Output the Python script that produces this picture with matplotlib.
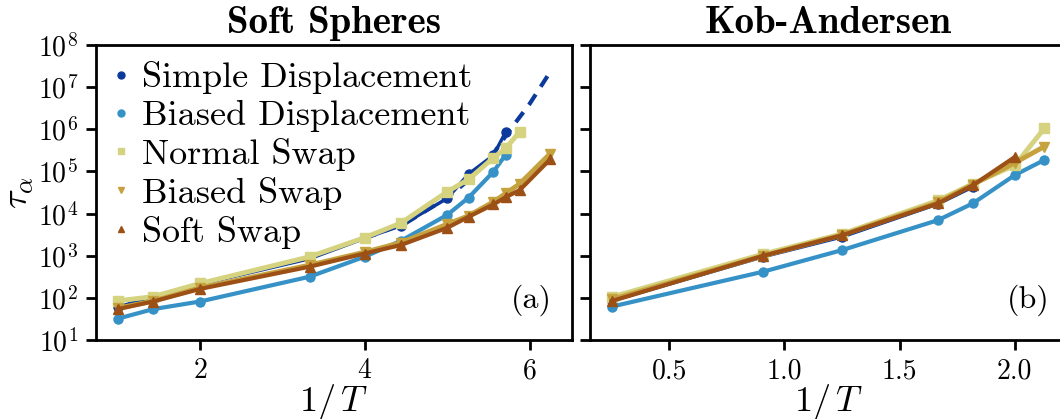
import numpy as np
import matplotlib
matplotlib.use("Agg")
import matplotlib.pyplot as plt
from matplotlib.lines import Line2D
from matplotlib.ticker import LogLocator, NullLocator

plt.rcParams["font.family"] = "serif"
plt.rcParams["font.serif"] = ["cmr10"]
plt.rcParams["mathtext.fontset"] = "cm"
plt.rcParams["axes.formatter.use_mathtext"] = True

# ---- Soft Spheres data (x = 1/T) ----
ss_x = [1.0, 1.43, 2.0, 3.33, 4.0, 4.44, 5.0, 5.26, 5.56, 5.71, 5.88, 6.25]

ss_simple = [60, 107, 210, 850, 2600, 5200, 23000, 87000, 240000, 860000]
ss_biased = [32, 54, 82, 318, 950, 2270, 9300, 24000, 98000, 250000]
ss_normal = [85, 107, 220, 945, 2700, 6000, 33000, 65000, 210000, 355000, 870000]
ss_bswap = [57, 84, 172, 600, 1220, 2050, 5600, 8900, 19000, 30000, 51000, 265000]
ss_soft = [54, 82, 163, 550, 1130, 1800, 4600, 8400, 16500, 24500, 36000, 195000]

# dashed extrapolation of simple displacement
fit_x = [4.0, 4.5, 5.0, 5.25, 5.5, 5.75, 6.0, 6.25]
fit_y = [2600, 6000, 24000, 60000, 180000, 900000, 4000000, 23000000]

# ---- Kob-Andersen data ----
ka_x = [0.25, 0.909, 1.25, 1.667, 1.818, 2.0, 2.128]

ka_simple = [85, 950, 2800, 17000, 43000]
ka_biased = [62, 420, 1360, 7000, 17500, 82000, 187000]
ka_normal = [105, 1100, 3300, 20500, 51000, 140000, 1050000]
ka_bswap = [92, 1000, 3100, 18500, 49000, 160000, 390000]
ka_soft = [84, 1000, 3050, 17500, 47000, 220000]

names = ["Simple Displacement", "Biased Displacement", "Normal Swap",
         "Biased Swap", "Soft Swap"]
colors = ["#0b3a9c", "#3591c6", "#d6d380", "#c6a23f", "#9c5015"]
markers = ["o", "o", "s", "v", "^"]
widths = [2.5, 3.0, 3.5, 3.5, 3.0]

fig = plt.figure(figsize=(10.6, 4.19), dpi=100)
ax1 = fig.add_axes([0.0906, 0.1885, 0.4488, 0.704])
ax2 = fig.add_axes([0.5566, 0.1885, 0.449, 0.704], sharey=ax1)

ss_series = [ss_simple, ss_biased, ss_normal, ss_bswap, ss_soft]
ka_series = [ka_simple, ka_biased, ka_normal, ka_bswap, ka_soft]

for ys, c, m, lw in zip(ss_series, colors, markers, widths):
    ax1.plot(ss_x[:len(ys)], ys, color=c, marker=m, lw=lw, ms=6.5)
ax1.plot(fit_x, fit_y, color=colors[0], lw=3, ls=(0, (3, 2.2)), zorder=1.5)

for ys, c, m, lw in zip(ka_series, colors, markers, widths):
    ax2.plot(ka_x[:len(ys)], ys, color=c, marker=m, lw=lw, ms=6.5)

for ax in (ax1, ax2):
    ax.set_yscale("log")
    ax.yaxis.set_major_locator(LogLocator(base=10, numticks=20))
    ax.yaxis.set_minor_locator(NullLocator())
    for s in ax.spines.values():
        s.set_linewidth(2)
    ax.tick_params(length=7, width=2, labelsize=20, pad=6)
    ax.set_xlabel(r"$1/\,T$", fontsize=26, labelpad=-2)

ax1.set_ylim(10, 1e8)
ax1.set_xlim(0.738, 6.512)
ax2.set_xlim(0.156, 2.222)
ax1.set_xticks([2, 4, 6])
ax2.set_xticks([0.5, 1.0, 1.5, 2.0])
ax2.set_xticklabels(["0.5", "1.0", "1.5", "2.0"])
ax2.tick_params(labelleft=False)

ax1.set_ylabel(r"$\tau_\alpha$", fontsize=26, labelpad=2)
ax1.set_title("Soft Spheres", fontsize=28, family="cmb10", pad=9)
ax2.set_title("Kob-Andersen", fontsize=28, family="cmb10", pad=9)

ax1.text(0.958, 0.136, "(a)", transform=ax1.transAxes, fontsize=23,
         ha="right", va="center")
ax2.text(0.966, 0.136, "(b)", transform=ax2.transAxes, fontsize=23,
         ha="right", va="center")

handles = [Line2D([], [], ls="none", marker=m, color=c, ms=5)
           for m, c in zip(markers, colors)]
ax1.legend(handles, names, loc="upper left", frameon=False, fontsize=26,
           handlelength=0.5, handletextpad=0.33, labelspacing=0.16,
           borderaxespad=0.12, borderpad=0.33)

fig.savefig("out.png", dpi=100)
plt.close(fig)
